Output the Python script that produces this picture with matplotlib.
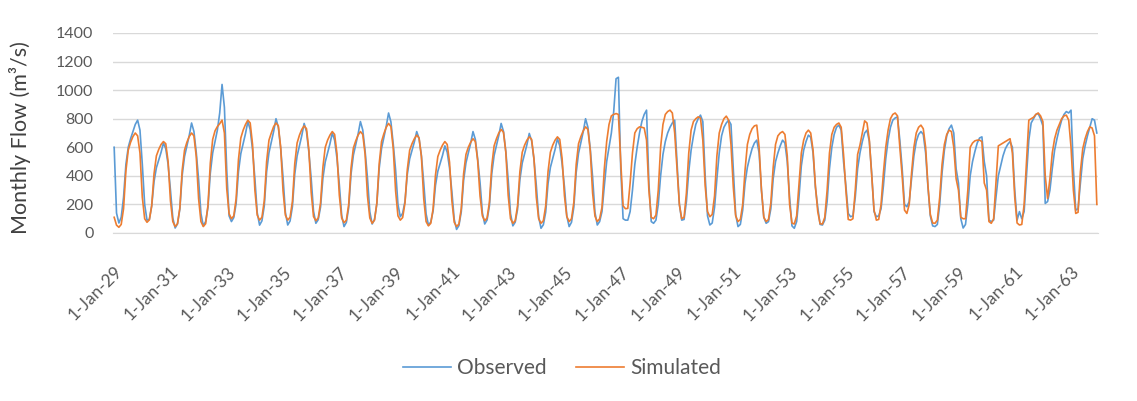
import matplotlib
matplotlib.use("Agg")
import matplotlib.pyplot as plt
import pandas as pd

# Monthly flows (m3/s), one row per calendar year, Jan..Dec
observed = [
    600, 140, 70, 110, 250, 480, 600, 660, 710, 760, 790, 720,    # 1929
    480, 200, 90, 95, 190, 360, 457, 511, 565, 630, 590, 480,     # 1930
    300, 105, 35, 64, 167, 403, 535, 608, 682, 770, 711, 564,     # 1931
    374, 136, 50, 80, 180, 420, 560, 640, 720, 840, 1040, 880,    # 1932
    440, 120, 80, 108, 206, 430, 556, 626, 696, 780, 724, 584,    # 1933
    381, 142, 55, 85, 189, 428, 562, 636, 711, 800, 740, 591,     # 1934
    391, 145, 56, 84, 184, 412, 539, 611, 682, 767, 710, 568,     # 1935
    383, 152, 68, 93, 182, 384, 498, 561, 624, 700, 649, 523,     # 1936
    340, 124, 45, 74, 177, 413, 545, 618, 692, 780, 721, 574,     # 1937
    386, 149, 63, 94, 203, 452, 591, 669, 747, 840, 778, 622,     # 1938
    441, 201, 114, 138, 221, 412, 519, 579, 638, 710, 662, 543,   # 1939
    350, 134, 55, 77, 155, 333, 432, 488, 543, 610, 566, 455,     # 1940
    288, 95, 25, 52, 148, 368, 491, 559, 628, 710, 655, 518,      # 1941
    354, 141, 63, 91, 190, 415, 542, 612, 683, 767, 711, 570,     # 1942
    373, 136, 50, 76, 166, 374, 490, 555, 619, 697, 645, 516,     # 1943
    332, 113, 33, 58, 146, 347, 459, 522, 585, 660, 610, 484,     # 1944
    322, 119, 45, 75, 181, 423, 558, 634, 709, 800, 740, 589,     # 1945
    391, 145, 56, 80, 150, 330, 500, 600, 700, 850, 1080, 1090,   # 1946
    450, 100, 90, 90, 150, 300, 480, 600, 700, 780, 830, 860,     # 1947
    350, 80, 68, 90, 200, 400, 550, 640, 700, 740, 770, 790,      # 1948
    500, 200, 90, 95, 220, 430, 580, 680, 760, 800, 825, 780,     # 1949
    400, 120, 56, 70, 180, 380, 560, 680, 740, 770, 790, 760,     # 1950
    450, 130, 45, 60, 160, 350, 460, 530, 590, 630, 650, 560,     # 1951
    300, 110, 68, 80, 170, 380, 500, 560, 610, 650, 630, 500,     # 1952
    250, 50, 33, 80, 250, 470, 580, 640, 685, 670, 560, 320,      # 1953
    180, 60, 56, 90, 220, 450, 600, 690, 740, 755, 720, 500,      # 1954
    330, 137, 114, 120, 250, 450, 560, 640, 700, 720, 640, 420,   # 1955
    150, 114, 120, 170, 330, 520, 650, 740, 790, 805, 813, 650,   # 1956
    450, 200, 184, 220, 380, 540, 640, 690, 710, 690, 560, 320,   # 1957
    120, 50, 45, 60, 200, 420, 580, 680, 730, 755, 700, 450,      # 1958
    350, 100, 35, 60, 200, 400, 500, 570, 630, 665, 673, 500,     # 1959
    400, 90, 80, 90, 250, 400, 470, 540, 590, 620, 640, 600,      # 1960
    300, 90, 150, 100, 150, 400, 650, 770, 800, 830, 836, 800,    # 1961
    750, 207, 220, 300, 450, 580, 660, 730, 790, 830, 850, 840,   # 1962
    860, 450, 160, 170, 350, 520, 610, 680, 740, 800, 790, 700,   # 1963
]

simulated = [
    110, 55, 40, 60, 170, 435, 580, 635, 675, 700, 680, 560,      # 1929
    250, 100, 75, 92, 190, 415, 540, 585, 620, 640, 625, 500,     # 1930
    225, 80, 45, 65, 175, 440, 580, 635, 675, 700, 680, 535,      # 1931
    240, 80, 45, 65, 195, 490, 655, 715, 745, 765, 790, 700,      # 1932
    310, 135, 100, 120, 240, 515, 665, 720, 760, 790, 770, 620,   # 1933
    300, 125, 90, 110, 225, 500, 650, 700, 745, 770, 750, 600,    # 1934
    295, 125, 90, 110, 220, 485, 630, 685, 725, 750, 730, 585,    # 1935
    285, 115, 86, 105, 210, 460, 600, 650, 685, 710, 690, 555,    # 1936
    265, 105, 72, 90, 200, 455, 595, 645, 685, 710, 690, 550,     # 1937
    260, 105, 68, 90, 210, 485, 640, 695, 740, 767, 745, 590,     # 1938
    295, 120, 90, 108, 210, 445, 580, 625, 660, 685, 665, 535,    # 1939
    240, 80, 50, 68, 170, 405, 535, 580, 615, 640, 620, 495,      # 1940
    225, 75, 45, 63, 170, 415, 550, 600, 635, 660, 640, 505,      # 1941
    260, 120, 86, 105, 215, 470, 610, 660, 700, 725, 705, 565,    # 1942
    265, 100, 68, 86, 190, 430, 565, 615, 650, 673, 655, 520,     # 1943
    250, 100, 68, 86, 190, 430, 565, 615, 650, 673, 655, 520,     # 1944
    260, 115, 80, 100, 215, 480, 625, 675, 715, 743, 725, 575,    # 1945
    280, 118, 80, 100, 180, 450, 640, 760, 820, 830, 836, 830,    # 1946
    500, 190, 170, 172, 350, 560, 700, 730, 743, 740, 735, 650,   # 1947
    300, 110, 100, 125, 300, 600, 760, 830, 850, 860, 840, 700,   # 1948
    450, 200, 100, 110, 280, 560, 720, 780, 800, 813, 805, 650,   # 1949
    330, 150, 114, 130, 260, 540, 700, 760, 800, 818, 790, 620,   # 1950
    320, 120, 80, 95, 200, 440, 620, 690, 730, 750, 755, 600,     # 1951
    300, 110, 80, 95, 210, 460, 620, 680, 700, 710, 690, 540,     # 1952
    200, 70, 63, 120, 340, 560, 650, 700, 720, 700, 580, 330,     # 1953
    150, 65, 63, 110, 300, 560, 690, 740, 760, 770, 740, 550,     # 1954
    300, 95, 90, 100, 300, 550, 615, 700, 785, 770, 650, 400,     # 1955
    160, 90, 95, 200, 420, 600, 720, 800, 830, 840, 820, 600,     # 1956
    400, 160, 137, 200, 420, 600, 700, 740, 755, 730, 600, 330,   # 1957
    130, 70, 68, 90, 250, 480, 620, 690, 720, 710, 600, 380,      # 1958
    300, 110, 100, 100, 300, 600, 630, 645, 650, 650, 640, 350,   # 1959
    300, 80, 68, 100, 350, 610, 620, 630, 640, 650, 660, 560,     # 1960
    250, 70, 56, 60, 200, 500, 790, 800, 810, 830, 840, 820,      # 1961
    780, 400, 242, 380, 560, 660, 720, 760, 800, 820, 825, 790,   # 1962
    600, 300, 137, 145, 430, 590, 660, 710, 743, 735, 680, 200,   # 1963
]

start_month = "1929-01-01"
label_every = 24          # months between date labels
y_ticks = [0, 200, 400, 600, 800, 1000, 1200, 1400]

months = pd.date_range(start_month, periods=len(observed), freq="MS")
positions = list(range(len(months)))
tick_pos = positions[::label_every]
tick_lab = [f"{d.day}-{d:%b}-{d:%y}" for d in months[::label_every]]

FONT = "Lato"
TXT = "#595959"
plt.rcParams["font.family"] = [FONT, "DejaVu Sans"]

W, H = 1137, 401
fig = plt.figure(figsize=(W / 100, H / 100), dpi=100)
ax = fig.add_axes([113 / W, 1 - 233 / H, (1098 - 113) / W, 200 / H])

ax.plot(positions, observed, color="#5B9BD5", lw=1.2, label="Observed", zorder=3)
ax.plot(positions, simulated, color="#ED7D31", lw=1.2, label="Simulated", zorder=3)

ax.set_xlim(-0.5, len(months) - 0.5)
ax.set_ylim(0, 1400)
ax.set_yticks(y_ticks)
ax.set_yticklabels([str(v) for v in y_ticks], fontsize=11.5, color=TXT)
ax.set_xticks(tick_pos)
ax.set_xticklabels(tick_lab, rotation=45, ha="right", va="top",
                   rotation_mode="anchor", fontsize=12.5, color=TXT)
ax.tick_params(axis="both", length=0)
ax.tick_params(axis="y", pad=14)
ax.tick_params(axis="x", pad=22)

ax.grid(axis="y", color="#D9D9D9", lw=1)
ax.set_axisbelow(True)
for side in ("top", "right", "left"):
    ax.spines[side].set_visible(False)
ax.spines["bottom"].set_color("#D9D9D9")

fig.text(20 / W, 1 - 138 / H, "Monthly Flow (m\u00b3/s)", rotation=90,
         ha="center", va="center", fontsize=15.5, color="#404040")

fig.legend(loc="center", bbox_to_anchor=(562 / W, 1 - 368 / H), ncol=2,
           frameon=False, fontsize=15, handlelength=2.3, handletextpad=0.3,
           columnspacing=1.4, labelcolor=TXT)

fig.savefig("out.png", dpi=100)
